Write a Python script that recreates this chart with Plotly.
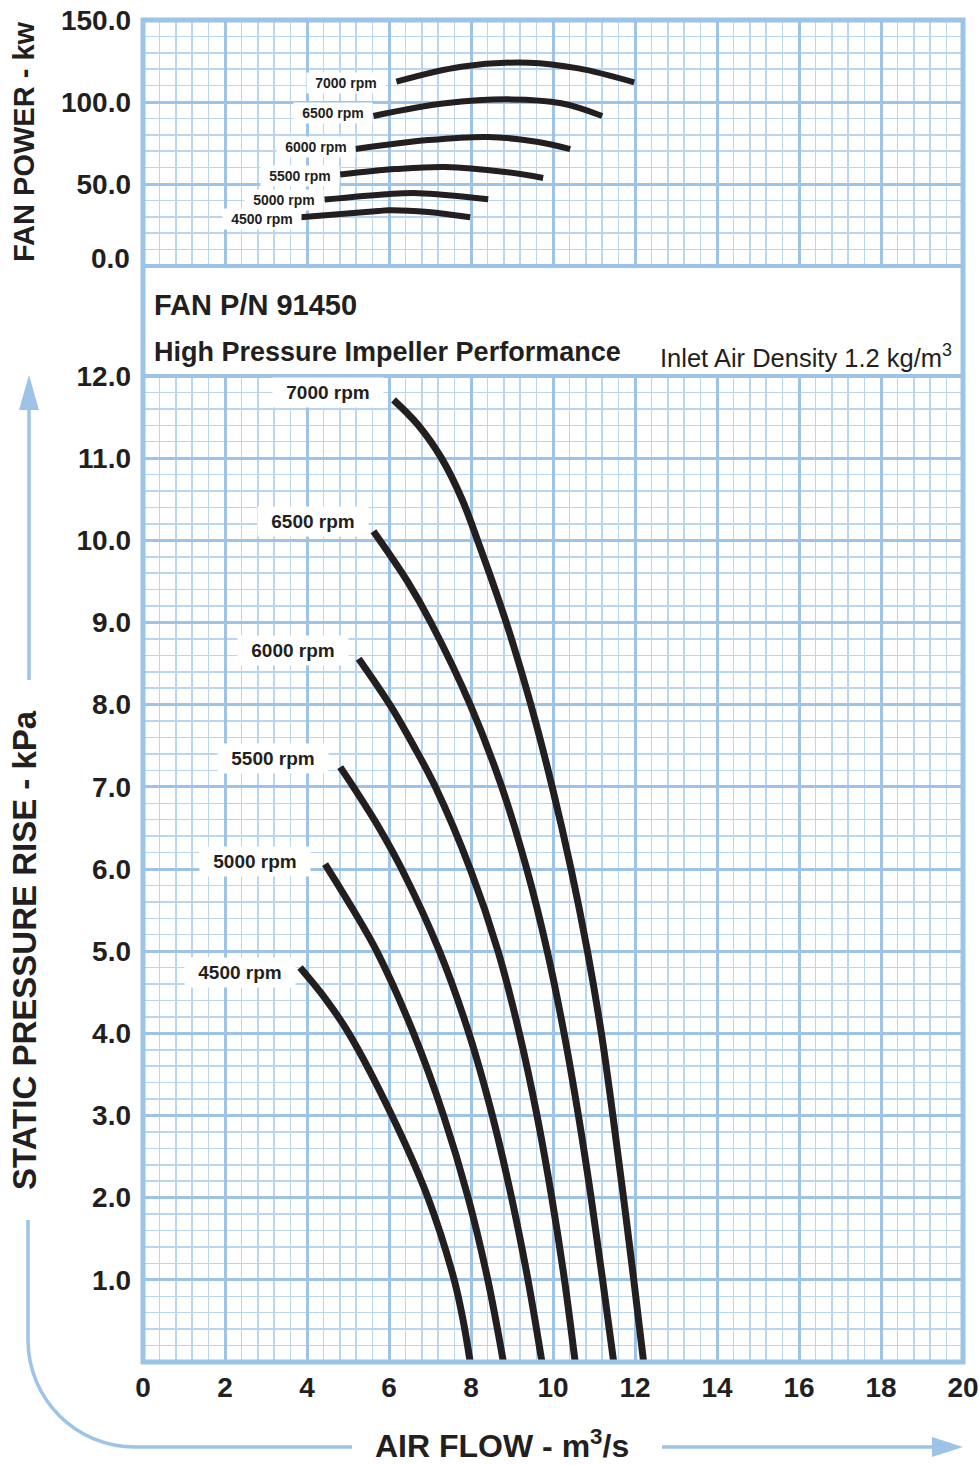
import plotly.graph_objects as go

# ---------------- data ----------------
speeds = ["7000 rpm", "6500 rpm", "6000 rpm", "5500 rpm", "5000 rpm", "4500 rpm"]

# Static pressure rise (kPa) vs air flow (m3/s)
p7000_x = [6.11, 6.70, 7.28, 7.78, 8.16, 8.86, 9.46, 9.98, 10.44, 10.84, 11.18, 11.46, 11.72, 11.97, 12.21]
p7000_y = [11.71, 11.41, 11.00, 10.50, 10.00, 9.00, 8.00, 7.00, 6.00, 5.00, 4.00, 3.00, 2.00, 1.00, 0.00]
p6500_x = [5.62, 6.45, 7.02, 7.98, 8.75, 9.36, 9.86, 10.27, 10.62, 10.93, 11.21, 11.48]
p6500_y = [10.11, 9.50, 9.00, 8.00, 7.00, 6.00, 5.00, 4.00, 3.00, 2.00, 1.00, 0.00]
p6000_x = [5.26, 6.02, 6.60, 7.13, 7.98, 8.66, 9.18, 9.61, 9.97, 10.28, 10.54]
p6000_y = [8.56, 8.00, 7.50, 7.00, 6.00, 5.00, 4.00, 3.00, 2.00, 1.00, 0.00]
p5500_x = [4.81, 5.13, 5.76, 6.31, 7.23, 7.95, 8.52, 8.99, 9.39, 9.73]
p5500_y = [7.24, 7.00, 6.50, 6.00, 5.00, 4.00, 3.00, 2.00, 1.00, 0.00]
p5000_x = [4.44, 5.13, 5.70, 6.60, 7.33, 7.93, 8.41, 8.79]
p5000_y = [6.06, 5.50, 5.00, 4.00, 3.00, 2.00, 1.00, 0.00]
p4500_x = [3.83, 4.45, 5.02, 6.07, 6.95, 7.59, 7.81, 7.98]
p4500_y = [4.80, 4.42, 4.00, 3.00, 2.00, 1.00, 0.50, 0.00]

# Fan power (kW) vs air flow (m3/s)
w7000_x = [6.18, 7.76, 9.40, 10.62, 11.98]
w7000_y = [112.4, 121.5, 124.0, 120.5, 112.0]
w6500_x = [5.62, 7.37, 8.98, 10.20, 11.20]
w6500_y = [91.5, 99.2, 101.6, 99.2, 91.5]
w6000_x = [5.18, 6.96, 8.42, 9.64, 10.42]
w6000_y = [71.3, 76.8, 78.7, 75.6, 71.3]
w5500_x = [4.81, 6.16, 7.37, 8.84, 9.76]
w5500_y = [55.8, 59.1, 60.4, 57.3, 53.7]
w5000_x = [4.43, 5.96, 6.72, 8.42]
w5000_y = [40.5, 43.8, 44.4, 40.7]
w4500_x = [3.84, 5.74, 5.98, 6.96, 7.98]
w4500_y = [29.7, 33.5, 34.0, 32.9, 29.7]

x_ticks = [0, 2, 4, 6, 8, 10, 12, 14, 16, 18, 20]
p_ticks = [1, 2, 3, 4, 5, 6, 7, 8, 9, 10, 11, 12]
w_ticks = [50, 100, 150]

pressure = [(p7000_x, p7000_y), (p6500_x, p6500_y), (p6000_x, p6000_y),
            (p5500_x, p5500_y), (p5000_x, p5000_y), (p4500_x, p4500_y)]
power = [(w7000_x, w7000_y), (w6500_x, w6500_y), (w6000_x, w6000_y),
         (w5500_x, w5500_y), (w5000_x, w5000_y), (w4500_x, w4500_y)]

# label anchor positions (data units) - layout only
p_label_pos = [(4.51, 11.80), (4.15, 10.23), (3.66, 8.66), (3.17, 7.34), (2.73, 6.09), (2.37, 4.74)]
w_label_pos = [(4.95, 111.6), (4.63, 93.3), (4.22, 72.6), (3.83, 54.9), (3.44, 40.2), (2.90, 28.7)]

# ---------------- styling ----------------
W, H = 979, 1465
def X(px):
    return px / W
def Y(py):
    return 1 - py / H

INK = "#231F20"
MAJ = "#9DC3E6"
MIN = "#B9D5EF"
BORDER = "#9DC3E6"
FONT = "Liberation Sans, Arial, Helvetica, sans-serif"

fig = go.Figure()

for (xs, ys), name in zip(pressure, speeds):
    fig.add_trace(go.Scatter(x=xs, y=ys, mode="lines", name=name,
                             line=dict(color=INK, width=7, shape="spline", smoothing=1.0),
                             xaxis="x", yaxis="y", showlegend=False, hoverinfo="skip"))
for (xs, ys), name in zip(power, speeds):
    fig.add_trace(go.Scatter(x=xs, y=ys, mode="lines", name=name,
                             line=dict(color=INK, width=6, shape="spline", smoothing=1.0),
                             xaxis="x2", yaxis="y2", showlegend=False, hoverinfo="skip"))

annotations = []
for (lx, ly), name in zip(p_label_pos, speeds):
    annotations.append(dict(x=lx, y=ly, xref="x", yref="y", text=name, showarrow=False,
                            font=dict(family=FONT, size=19, color=INK, weight="bold"),
                            bgcolor="white", borderpad=3, width=104, height=23))
# draw the lower power labels first so the upper ones are never covered
for (lx, ly), name in reversed(list(zip(w_label_pos, speeds))):
    annotations.append(dict(x=lx, y=ly, xref="x2", yref="y2", text=name, showarrow=False,
                            font=dict(family=FONT, size=14, color=INK, weight="bold"),
                            bgcolor="white", borderpad=2, width=74, height=16))

tickfont = dict(family=FONT, size=28, color=INK, weight="bold")

annotations += [
    # "0.0" of the power scale sits a little above its grid line in the reference
    dict(x=0, y=0, xref="x2", yref="y2", xanchor="right", yanchor="middle",
         xshift=-11, yshift=8, text="0.0", showarrow=False, font=tickfont),
    dict(x=X(152), y=Y(305), xref="paper", yref="paper", xanchor="left", yanchor="middle",
         text="FAN P/N 91450", showarrow=False,
         font=dict(family=FONT, size=29, color=INK, weight="bold")),
    dict(x=X(152), y=Y(352), xref="paper", yref="paper", xanchor="left", yanchor="middle",
         text="High Pressure Impeller Performance", showarrow=False,
         font=dict(family=FONT, size=27, color=INK, weight="bold")),
    dict(x=X(954), y=Y(356), xref="paper", yref="paper", xanchor="right", yanchor="middle",
         text="Inlet Air Density 1.2 kg/m<sup>3</sup>", showarrow=False,
         font=dict(family=FONT, size=25.5, color=INK)),
    dict(x=X(24), y=Y(142), xref="paper", yref="paper", xanchor="center", yanchor="middle",
         textangle=-90, text="FAN POWER - kw", showarrow=False,
         font=dict(family=FONT, size=29, color=INK, weight="bold")),
    dict(x=X(24), y=Y(950), xref="paper", yref="paper", xanchor="center", yanchor="middle",
         textangle=-90, text="STATIC PRESSURE RISE - kPa", showarrow=False,
         font=dict(family=FONT, size=33, color=INK, weight="bold")),
    dict(x=X(502), y=Y(1444), xref="paper", yref="paper", xanchor="center", yanchor="middle",
         text="AIR FLOW - m<sup>3</sup>/s", showarrow=False,
         font=dict(family=FONT, size=32, color=INK, weight="bold")),
]

k = 0.5523 * 107
shapes = [
    dict(type="rect", xref="paper", yref="paper", x0=X(143), x1=X(963), y0=Y(1362), y1=Y(20),
         line=dict(color=BORDER, width=5), layer="above"),
    dict(type="line", xref="paper", yref="paper", x0=X(143), x1=X(963), y0=Y(266), y1=Y(266),
         line=dict(color=BORDER, width=4), layer="above"),
    dict(type="line", xref="paper", yref="paper", x0=X(143), x1=X(963), y0=Y(376), y1=Y(376),
         line=dict(color=BORDER, width=4), layer="above"),
    dict(type="line", xref="paper", yref="paper", x0=X(29), x1=X(29), y0=Y(680), y1=Y(405),
         line=dict(color=MAJ, width=3.5)),
    dict(type="path", xref="paper", yref="paper",
         path=f"M {X(19)},{Y(410)} L {X(29)},{Y(375)} L {X(39)},{Y(410)} Z",
         fillcolor=MAJ, line=dict(color=MAJ, width=0)),
    dict(type="path", xref="paper", yref="paper",
         path=(f"M {X(28)},{Y(1220)} L {X(28)},{Y(1340)} "
               f"C {X(28)},{Y(1340 + k)} {X(135 - k)},{Y(1447)} {X(135)},{Y(1447)} "
               f"L {X(352)},{Y(1447)}"),
         line=dict(color=MAJ, width=3.5)),
    dict(type="line", xref="paper", yref="paper", x0=X(662), x1=X(935), y0=Y(1447), y1=Y(1447),
         line=dict(color=MAJ, width=3.5)),
    dict(type="path", xref="paper", yref="paper",
         path=f"M {X(932)},{Y(1437)} L {X(963)},{Y(1447)} L {X(932)},{Y(1457)} Z",
         fillcolor=MAJ, line=dict(color=MAJ, width=0)),
]

xcommon = dict(domain=[X(143), X(963)], range=[0, 20], showgrid=True, gridcolor=MAJ, gridwidth=3,
               zeroline=False, showline=False, ticks="", automargin=False,
               minor=dict(dtick=0.4, tick0=0, showgrid=True, gridcolor=MIN, gridwidth=1.5, ticks=""))
ycommon = dict(showgrid=True, gridcolor=MAJ, gridwidth=3, zeroline=False, showline=False,
               ticks="", automargin=False, tickfont=tickfont, ticklabelstandoff=11)

fig.update_layout(
    width=W, height=H, margin=dict(l=0, r=0, t=0, b=0, autoexpand=False),
    paper_bgcolor="white", plot_bgcolor="white", showlegend=False,
    xaxis=dict(**xcommon, anchor="y", tickmode="array", tickvals=x_ticks,
               ticktext=[str(v) for v in x_ticks], tickfont=tickfont, ticklabelstandoff=6),
    xaxis2=dict(**xcommon, anchor="y2", matches="x", showticklabels=False,
                tickmode="array", tickvals=x_ticks),
    yaxis=dict(**ycommon, domain=[Y(1362), Y(376)], range=[0, 12], anchor="x",
               tickmode="array", tickvals=p_ticks, ticktext=[f"{v:.1f}" for v in p_ticks],
               minor=dict(dtick=0.2, tick0=0, showgrid=True, gridcolor=MIN, gridwidth=1.5, ticks="")),
    yaxis2=dict(**ycommon, domain=[Y(266), Y(20)], range=[0, 150], anchor="x2",
                tickmode="array", tickvals=w_ticks, ticktext=[f"{v:.1f}" for v in w_ticks],
                minor=dict(dtick=10, tick0=0, showgrid=True, gridcolor=MIN, gridwidth=1.5, ticks="")),
    annotations=annotations,
    shapes=shapes,
)

fig.write_html("out.html", config={"displayModeBar": False, "staticPlot": True},
               post_script="document.body.style.margin='0px';")
